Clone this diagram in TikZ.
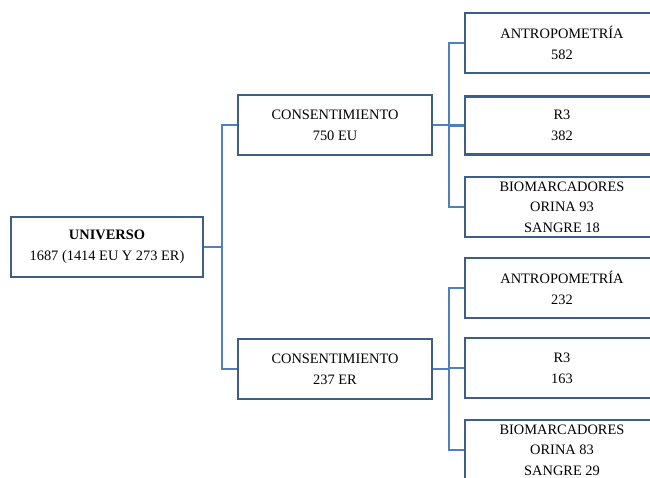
\documentclass[tikz,border=0pt]{standalone}
\usepackage{fontspec}
\setmainfont{Liberation Serif}
\definecolor{boxblue}{RGB}{62,94,136}
\definecolor{linkblue}{RGB}{79,129,189}

\begin{document}
\begin{tikzpicture}[x=1pt,y=-1pt,
    box/.style={draw=boxblue,line width=2.2pt,fill=white,align=center,
        minimum width=192pt,minimum height=60pt,inner ysep=0pt,
        font=\fontsize{14.4}{20.7}\selectfont},
    link/.style={draw=linkblue,line width=2.6pt}]
        \useasboundingbox[fill=white] (0,0) rectangle (650,477);
        \clip (0,0) rectangle (650,477);
        \node[box] (univ) at (107,247) {\textbf{UNIVERSO}\\1687 (1414 EU Y 273 ER)};
        \node[box,minimum width=194pt] (cons1) at (335,125) {CONSENTIMIENTO\\750 EU};
        \node[box,minimum width=194pt] (cons2) at (335,369) {CONSENTIMIENTO\\237 ER};
        \node[box,minimum width=194pt] (antro1) at (562,43) {ANTROPOMETRÍA\\582};
        \node[box,minimum width=194pt,minimum height=58pt] (rtres1) at (562,125.5) {R3\\382};
        \node[box,minimum width=194pt] (bio1) at (562,207) {BIOMARCADORES\\ORINA 93\\SANGRE 18};
        \node[box,minimum width=194pt] (antro2) at (562,288) {ANTROPOMETRÍA\\232};
        \node[box,minimum width=194pt] (rtres2) at (562,368) {R3\\163};
        \node[box,minimum width=194pt] (bio2) at (562,450) {BIOMARCADORES\\ORINA 83\\SANGRE 29};
        \draw[link] (univ.east) -- ++(18,0) coordinate (ju);
        \draw[link] (ju) |- (cons1.west);
        \draw[link] (ju) |- (cons2.west);
        \draw[link] (cons1.east) -- ++(16,0) coordinate (jeu);
        \draw[link] (jeu) |- (antro1.west);
        \draw[link] (jeu) |- (rtres1.west);
        \draw[link] (jeu) |- (bio1.west);
        \draw[link] (cons2.east) -- ++(16,0) coordinate (jer);
        \draw[link] (jer) |- (antro2.west);
        \draw[link] (jer) |- (rtres2.west);
        \draw[link] (jer) |- (bio2.west);
    \end{tikzpicture}
\end{document}
